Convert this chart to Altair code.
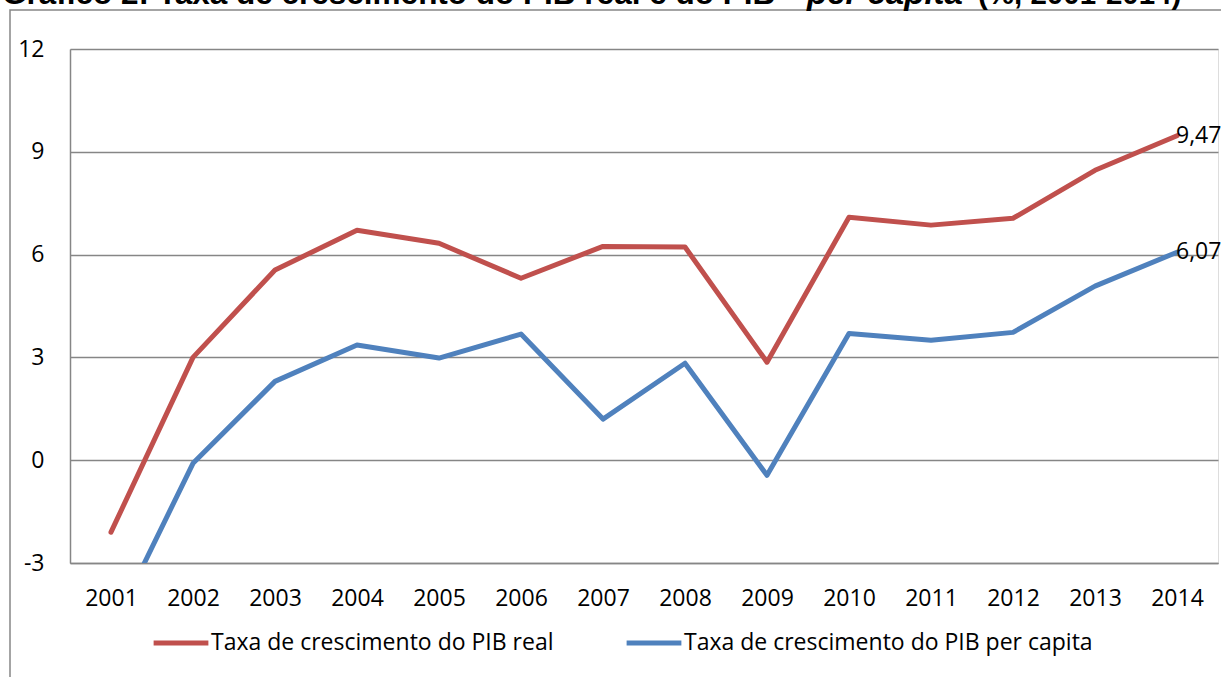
import altair as alt
import pandas as pd

years = [str(y) for y in range(2001, 2015)]
pib_real = [-2.1, 3.0, 5.55, 6.71, 6.33, 5.31, 6.24, 6.22, 2.86, 7.09, 6.86, 7.06, 8.46, 9.47]
pib_pc = [-5.0, -0.09, 2.3, 3.36, 2.98, 3.68, 1.2, 2.83, -0.44, 3.7, 3.5, 3.73, 5.08, 6.07]
series_names = ["Taxa de crescimento do PIB real", "Taxa de crescimento do PIB per capita"]
colors = ["#C0504D", "#4F81BD"]
end_labels = ["9,47", "6,07"]

rows = []
for i, y in enumerate(years):
    rows.append({"ano": y, "valor": pib_real[i], "serie": series_names[0]})
    rows.append({"ano": y, "valor": pib_pc[i], "serie": series_names[1]})
df = pd.DataFrame(rows)

lab_df = pd.DataFrame({
    "ano": [years[-1], years[-1]],
    "valor": [pib_real[-1], pib_pc[-1]],
    "txt": end_labels,
})

FONT = "Open Sans"
FS = 23
W, H = 1148, 514

x_enc = alt.X("ano:O", title=None, sort=years,
              scale=alt.Scale(padding=0.5),
              axis=alt.Axis(labelAngle=0, labelFontSize=FS, labelFont=FONT, labelColor="black",
                            labelPadding=24, ticks=False, domainColor="#868686", domainWidth=1.5))
y_enc = alt.Y("valor:Q", title=None,
              scale=alt.Scale(domain=[-3, 12], nice=False, zero=False),
              axis=alt.Axis(values=[-3, 0, 3, 6, 9, 12], labelFontSize=FS, labelFont=FONT,
                            labelExpr="toString(datum.value)",
                            labelColor="black", labelPadding=26, ticks=False,
                            domainColor="#868686", domainWidth=1.5,
                            gridColor="#868686", gridWidth=1.5))

lines = alt.Chart(df).mark_line(strokeWidth=5, clip=True, strokeCap="round", strokeJoin="round").encode(
    x=x_enc,
    y=y_enc,
    color=alt.Color("serie:N", sort=series_names,
                    scale=alt.Scale(domain=series_names, range=colors),
                    legend=alt.Legend(title=None, orient="none", direction="horizontal",
                                      legendX=81, legendY=H + 50,
                                      symbolType="stroke", symbolSize=3000, symbolStrokeWidth=5,
                                      labelFontSize=FS, labelFont=FONT, labelColor="black",
                                      labelLimit=600, labelOffset=0, columnPadding=62)),
)

labels = alt.Chart(lab_df).mark_text(align="left", baseline="middle", fontSize=FS, font=FONT,
                                     color="black", dx=-1).encode(
    x=alt.X("ano:O", sort=years),
    y=alt.Y("valor:Q"),
    text="txt:N",
)

frame = alt.Chart(pd.DataFrame({"a": [0]})).mark_rect(fill=None, stroke="#868686", strokeWidth=1.5).encode(
    x=alt.value(-60), x2=alt.value(W + 40), y=alt.value(-39), y2=alt.value(H + 200))

TY = -45
title_df = pd.DataFrame({"a": [0]})
t1 = alt.Chart(title_df).mark_text(text="Gráfico 2: Taxa de crescimento do PIB real e do PIB", align="left",
                                    baseline="alphabetic", fontSize=31.5, fontWeight="bold",
                                    font="Liberation Sans", color="black").encode(
    x=alt.value(-68), y=alt.value(TY))
t2 = alt.Chart(title_df).mark_text(text="per capita", align="left", baseline="alphabetic", fontSize=33,
                                    fontWeight="bold", fontStyle="italic", font="Liberation Sans",
                                    color="black").encode(x=alt.value(737), y=alt.value(TY))
t3 = alt.Chart(title_df).mark_text(text="(%, 2001-2014)", align="left", baseline="alphabetic", fontSize=29.5,
                                    fontWeight="bold", font="Liberation Sans", color="black").encode(
    x=alt.value(908), y=alt.value(TY))

chart = alt.layer(frame, lines, labels, t1, t2, t3).properties(
    width=W, height=H,
    autosize=alt.AutoSizeParams(type="none"),
    padding={"left": 70, "top": 49, "right": 3, "bottom": 114},
).configure_view(stroke=None).configure(background="white")

chart.save("out.html", embed_options={"renderer": "svg", "actions": False})
